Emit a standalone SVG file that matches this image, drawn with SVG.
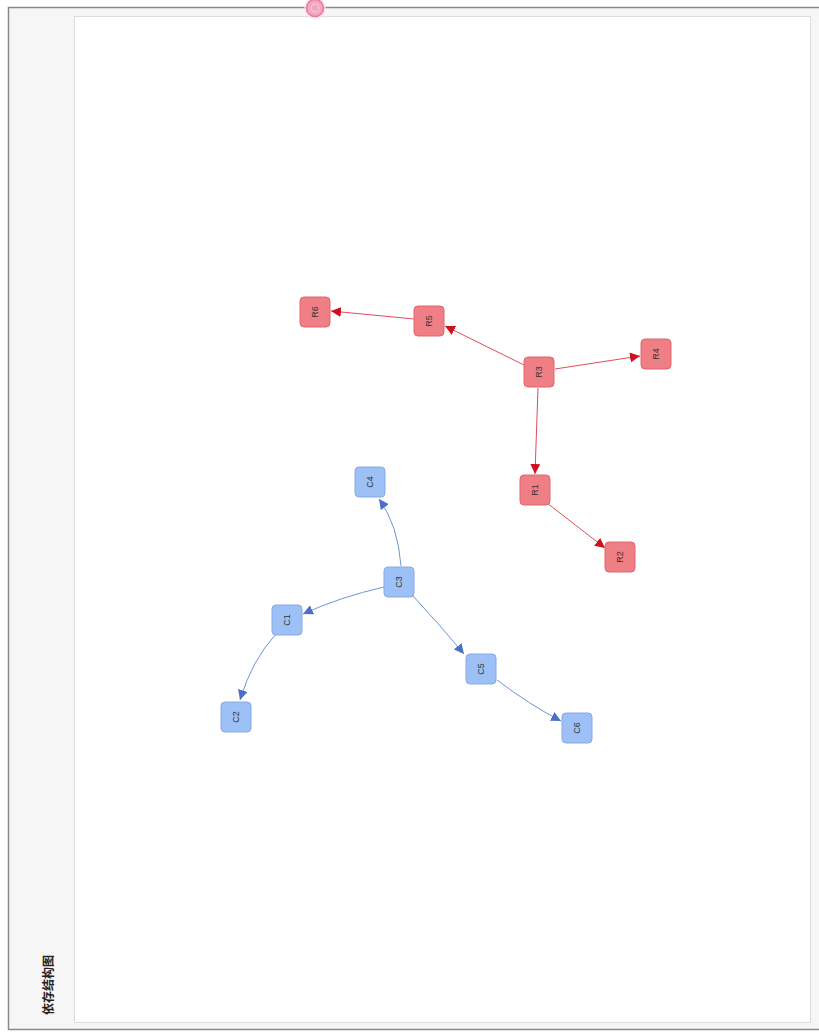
<svg xmlns="http://www.w3.org/2000/svg" width="819" height="1032" viewBox="0 0 819 1032">
<defs>
<style>
.rn rect{fill:#f07e85;stroke:#e06670;stroke-width:1}
.bn rect{fill:#9dc0f6;stroke:#86a9e6;stroke-width:1}
.lbl{font-family:"Liberation Sans",Arial,sans-serif;font-size:9px;fill:#333;text-anchor:middle;dominant-baseline:central}
.re{fill:none;stroke:#e04c5c;stroke-width:1}
.be{fill:none;stroke:#6f93da;stroke-width:1}
</style>
<marker id="ar" viewBox="0 0 10 10" refX="10" refY="5" markerWidth="10" markerHeight="10" markerUnits="userSpaceOnUse" orient="auto"><path d="M0,0L10,5L0,10z" fill="#d0101e"/></marker>
<marker id="ab" viewBox="0 0 10 10" refX="10" refY="5" markerWidth="10" markerHeight="10" markerUnits="userSpaceOnUse" orient="auto"><path d="M0,0L10,5L0,10z" fill="#4a6fc4"/></marker>
</defs>
<rect x="0" y="0" width="819" height="1032" fill="#ffffff"/>
<g id="frame">
<rect x="8.5" y="7.5" width="815" height="1022" fill="#f6f6f6" stroke="#8a8a8a" stroke-width="1.5"/>
<rect x="74.5" y="16.5" width="736" height="1006" fill="#ffffff" stroke="#dddddd" stroke-width="1"/>
<circle cx="315" cy="8" r="11" fill="#fbe3ec" opacity="0.7"/>
<circle cx="315" cy="8" r="8.5" fill="#f4a6bf" stroke="#e77aa0" stroke-width="1.5"/>
<circle cx="315" cy="8" r="4" fill="none" stroke="#f8c8d8" stroke-width="1"/>
<text x="47" y="985" transform="rotate(-90 47 985)" font-family="'Noto Sans CJK SC',sans-serif" font-size="12" font-weight="bold" fill="#222" text-anchor="middle" dominant-baseline="central">依存结构图</text>
</g>
<g id="connectors">
<path class="re" d="M524,365 L445,326" marker-end="url(#ar)"/>
<path class="re" d="M414,319 L331,311" marker-end="url(#ar)"/>
<path class="re" d="M555,369 L640,356" marker-end="url(#ar)"/>
<path class="re" d="M538,388 L535,474" marker-end="url(#ar)"/>
<path class="re" d="M547,503 L605,548" marker-end="url(#ar)"/>
<path class="be" d="M401,566 Q398,525 379,499" marker-end="url(#ab)"/>
<path class="be" d="M384,587 Q340,597 303,614" marker-end="url(#ab)"/>
<path class="be" d="M276,634 Q252,660 240,700" marker-end="url(#ab)"/>
<path class="be" d="M413,596 Q440,625 464,654" marker-end="url(#ab)"/>
<path class="be" d="M497,680 Q530,705 561,721" marker-end="url(#ab)"/>
</g>
<g id="R6" class="rn"><rect x="300" y="297" width="30" height="30" rx="4"/><text class="lbl" x="315" y="312" transform="rotate(-90 315 312)">R6</text></g>
<g id="R5" class="rn"><rect x="414" y="306" width="30" height="30" rx="4"/><text class="lbl" x="429" y="321" transform="rotate(-90 429 321)">R5</text></g>
<g id="R3" class="rn"><rect x="524" y="357" width="30" height="30" rx="4"/><text class="lbl" x="539" y="372" transform="rotate(-90 539 372)">R3</text></g>
<g id="R4" class="rn"><rect x="641" y="339" width="30" height="30" rx="4"/><text class="lbl" x="656" y="354" transform="rotate(-90 656 354)">R4</text></g>
<g id="R1" class="rn"><rect x="520" y="475" width="30" height="30" rx="4"/><text class="lbl" x="535" y="490" transform="rotate(-90 535 490)">R1</text></g>
<g id="R2" class="rn"><rect x="605" y="542" width="30" height="30" rx="4"/><text class="lbl" x="620" y="557" transform="rotate(-90 620 557)">R2</text></g>
<g id="C4" class="bn"><rect x="355" y="467" width="30" height="30" rx="4"/><text class="lbl" x="370" y="482" transform="rotate(-90 370 482)">C4</text></g>
<g id="C3" class="bn"><rect x="384" y="567" width="30" height="30" rx="4"/><text class="lbl" x="399" y="582" transform="rotate(-90 399 582)">C3</text></g>
<g id="C1" class="bn"><rect x="272" y="605" width="30" height="30" rx="4"/><text class="lbl" x="287" y="620" transform="rotate(-90 287 620)">C1</text></g>
<g id="C2" class="bn"><rect x="221" y="702" width="30" height="30" rx="4"/><text class="lbl" x="236" y="717" transform="rotate(-90 236 717)">C2</text></g>
<g id="C5" class="bn"><rect x="466" y="654" width="30" height="30" rx="4"/><text class="lbl" x="481" y="669" transform="rotate(-90 481 669)">C5</text></g>
<g id="C6" class="bn"><rect x="562" y="713" width="30" height="30" rx="4"/><text class="lbl" x="577" y="728" transform="rotate(-90 577 728)">C6</text></g>
</svg>
